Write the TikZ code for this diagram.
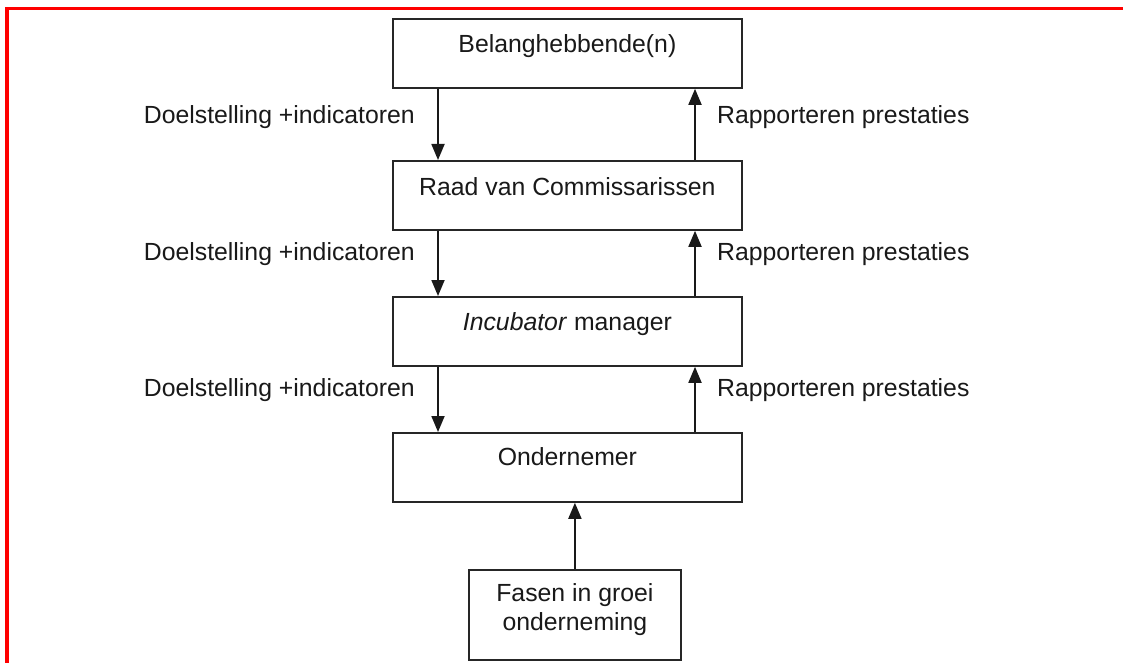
\documentclass[tikz,border=0pt]{standalone}
\usepackage{fontspec}
\setmainfont{Liberation Sans}
\usetikzlibrary{arrows.meta}
\begin{document}
\begin{tikzpicture}[x=1pt,y=-1pt,
  box/.style={draw=black!85, line width=1.8pt, minimum width=349pt, minimum height=69pt, inner sep=0pt, anchor=north west},
  txt/.style={font=\fontsize{24.8}{29}\selectfont, inner sep=0pt, text=black!90},
  arr/.style={draw=black!90, line width=1.8pt, -{Triangle[length=16pt,width=13pt]}}]
\useasboundingbox (0,0) rectangle (1123,663);
\fill[white] (0,0) rectangle (1123,663);
\draw[red, line width=3.5pt] (7,663) -- (7,8.5) -- (1123,8.5);

% boxes
\node[box] (b1) at (392,18) {};
\node[box] (b2) at (392,160) {};
\node[box] (b3) at (392,296) {};
\node[box] (b4) at (392,432) {};
\node[box, minimum width=212pt, minimum height=90pt] (b5) at (468,569) {};

% box texts
\node[txt, anchor=base] (t1) at ([yshift=-35pt]b1.north) {Belanghebbende(n)};
\node[txt, anchor=base] (t2) at ([yshift=-35pt]b2.north) {Raad van Commissarissen};
\node[txt, anchor=base] (t3) at ([yshift=-34pt]b3.north) {\textit{Incubator} manager};
\node[txt, anchor=base] (t4) at ([yshift=-33pt]b4.north) {Ondernemer};
\node[txt, anchor=base, align=center] (t5) at ([yshift=-61pt]b5.north) {Fasen in groei\\onderneming};

% labels
\node[txt, anchor=base east] (l1) at (415,124) {Doelstelling +indicatoren};
\node[txt, anchor=base east] (l2) at (415,260) {Doelstelling +indicatoren};
\node[txt, anchor=base east] (l3) at (415,396) {Doelstelling +indicatoren};
\node[txt, anchor=base west] (r1) at (717,124) {Rapporteren prestaties};
\node[txt, anchor=base west] (r2) at (717,260) {Rapporteren prestaties};
\node[txt, anchor=base west] (r3) at (717,396) {Rapporteren prestaties};

% arrows down
\draw[arr] ([xshift=46pt]b1.south west) -- ([xshift=46pt]b2.north west);
\draw[arr] ([xshift=46pt]b2.south west) -- ([xshift=46pt]b3.north west);
\draw[arr] ([xshift=46pt]b3.south west) -- ([xshift=46pt]b4.north west);
% arrows up
\draw[arr] ([xshift=303pt]b2.north west) -- ([xshift=303pt]b1.south west);
\draw[arr] ([xshift=303pt]b3.north west) -- ([xshift=303pt]b2.south west);
\draw[arr] ([xshift=303pt]b4.north west) -- ([xshift=303pt]b3.south west);
% from phases
\draw[arr] (b5.north) -- (b5.north |- b4.south);
\end{tikzpicture}
\end{document}
